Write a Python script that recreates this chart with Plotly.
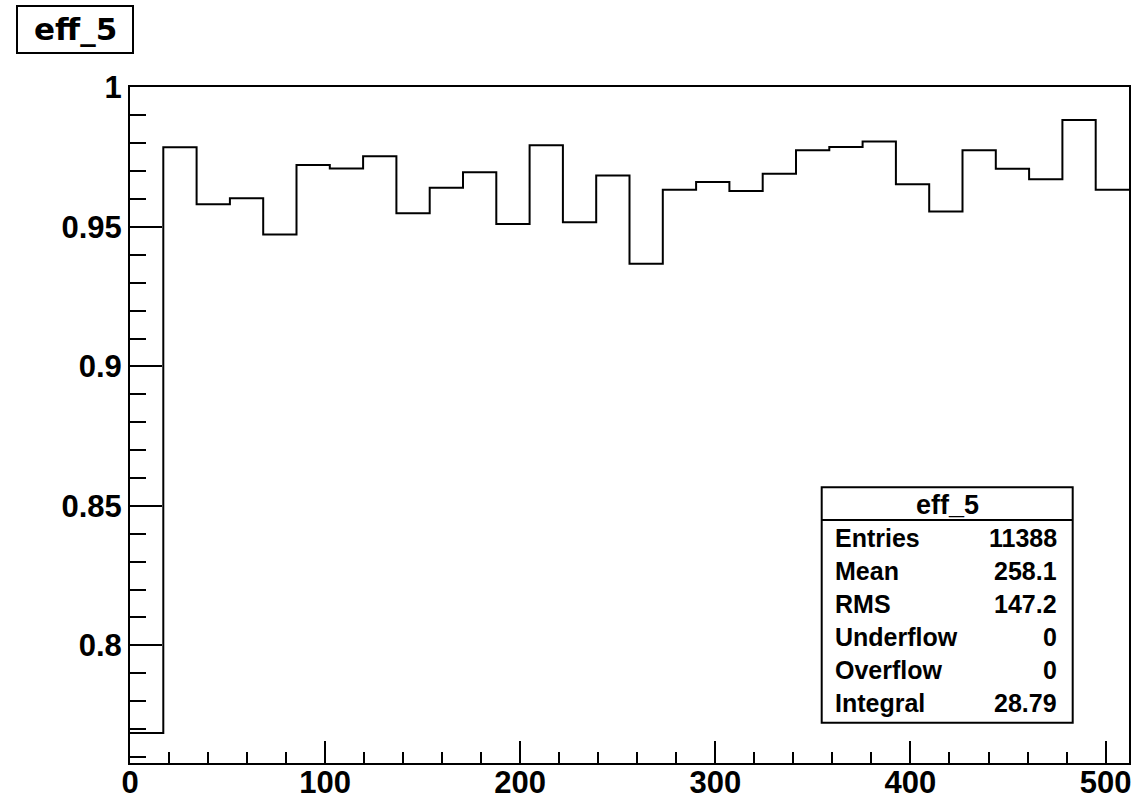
import numpy as np
import plotly.graph_objects as go

# ---- data ----
hist_name = "eff_5"
x_min, x_max, n_bins = 0.0, 512.0, 30
bin_values = [0.7686, 0.9786, 0.9582, 0.9603, 0.9473, 0.9722, 0.9710, 0.9754,
              0.9549, 0.9641, 0.9696, 0.9511, 0.9793, 0.9517, 0.9685, 0.9368,
              0.9634, 0.9661, 0.9629, 0.9691, 0.9775, 0.9787, 0.9807, 0.9653,
              0.9556, 0.9775, 0.9709, 0.9671, 0.9884, 0.9634]
y_range = [0.7578, 1.0002]
x_tick_vals = [0, 100, 200, 300, 400, 500]
stat_labels = ["Entries", "Mean", "RMS", "Underflow", "Overflow", "Integral"]
stat_values = ["11388", "258.1", "147.2", "0", "0", "28.79"]

# ---- geometry helpers (reference pixel -> paper) ----
W, H = 1131, 799
ML, MR, MT, MB = 130, 2, 87, 36
PW, PH = W - ML - MR, H - MT - MB


def px(xp):
    return (xp - ML) / PW


def py(yp):
    return (H - MB - yp) / PH


edges = np.linspace(x_min, x_max, n_bins + 1)
y_step = list(bin_values) + [bin_values[-1]]

fig = go.Figure()
fig.add_trace(go.Scatter(
    x=edges, y=y_step, mode="lines", line=dict(shape="hv", color="black", width=2),
    hoverinfo="skip", showlegend=False))

tick_font = dict(family="Liberation Sans, Arial", size=31, color="black", weight="bold")

fig.update_layout(
    width=W, height=H,
    margin=dict(l=ML, r=MR, t=MT, b=MB, pad=0, autoexpand=False),
    paper_bgcolor="white", plot_bgcolor="white",
    showlegend=False,
    xaxis=dict(range=[x_min, x_max], tickmode="array", tickvals=x_tick_vals,
               ticks="inside", ticklen=22, tickwidth=2, tickcolor="black",
               minor=dict(dtick=20, tick0=0, ticks="inside", ticklen=11, tickwidth=2,
                          tickcolor="black", showgrid=False),
               showline=True, linewidth=2, linecolor="black", mirror=True,
               showgrid=False, zeroline=False, tickfont=tick_font,
               ticklabelstandoff=-9, ticklabeloverflow="allow", automargin=False),
    yaxis=dict(range=y_range, tickmode="linear", tick0=0, dtick=0.05,
               ticks="inside", ticklen=32, tickwidth=2, tickcolor="black",
               minor=dict(dtick=0.01, tick0=0, ticks="inside", ticklen=16, tickwidth=2,
                          tickcolor="black", showgrid=False),
               showline=True, linewidth=2, linecolor="black", mirror=True,
               showgrid=False, zeroline=False, tickfont=tick_font,
               ticklabelstandoff=0, ticklabeloverflow="allow", automargin=False),
)

shapes = []
annots = []

# title box
shapes.append(dict(type="rect", xref="paper", yref="paper",
                   x0=px(17), x1=px(133), y0=py(53), y1=py(6),
                   line=dict(color="black", width=2), fillcolor="white"))
annots.append(dict(xref="paper", yref="paper", x=px(75), y=py(29), text=hist_name,
                   showarrow=False, xanchor="center", yanchor="middle",
                   font=dict(family="DejaVu Sans", size=31, color="black", weight="bold")))

# stats box
bx0, bx1, by0, by1, bsep = 821.7, 1072.7, 487.3, 722.7, 520
shapes.append(dict(type="rect", xref="paper", yref="paper",
                   x0=px(bx0), x1=px(bx1), y0=py(by1), y1=py(by0),
                   line=dict(color="black", width=2), fillcolor="white"))
shapes.append(dict(type="line", xref="paper", yref="paper",
                   x0=px(bx0), x1=px(bx1), y0=py(bsep), y1=py(bsep),
                   line=dict(color="black", width=2)))
annots.append(dict(xref="paper", yref="paper", x=px((bx0 + bx1) / 2), y=py(505),
                   text=hist_name, showarrow=False, xanchor="center", yanchor="middle",
                   font=dict(family="Liberation Sans, Arial", size=27, color="black", weight="bold")))
row_y0, row_dy = 538, 33
stat_font = dict(family="Liberation Sans, Arial", size=25, color="black", weight="bold")
for i, (lab, val) in enumerate(zip(stat_labels, stat_values)):
    yy = py(row_y0 + i * row_dy)
    annots.append(dict(xref="paper", yref="paper", x=px(833), y=yy, text=lab,
                       showarrow=False, xanchor="left", yanchor="middle", font=stat_font))
    annots.append(dict(xref="paper", yref="paper", x=px(1059), y=yy, text=val,
                       showarrow=False, xanchor="right", yanchor="middle", font=stat_font))

fig.update_layout(shapes=shapes, annotations=annots)
fig.write_html(
    "out.html",
    config={"displayModeBar": False},
    post_script="document.body.style.margin='0';document.body.style.overflow='hidden';"
                "document.documentElement.style.overflow='hidden';",
)
